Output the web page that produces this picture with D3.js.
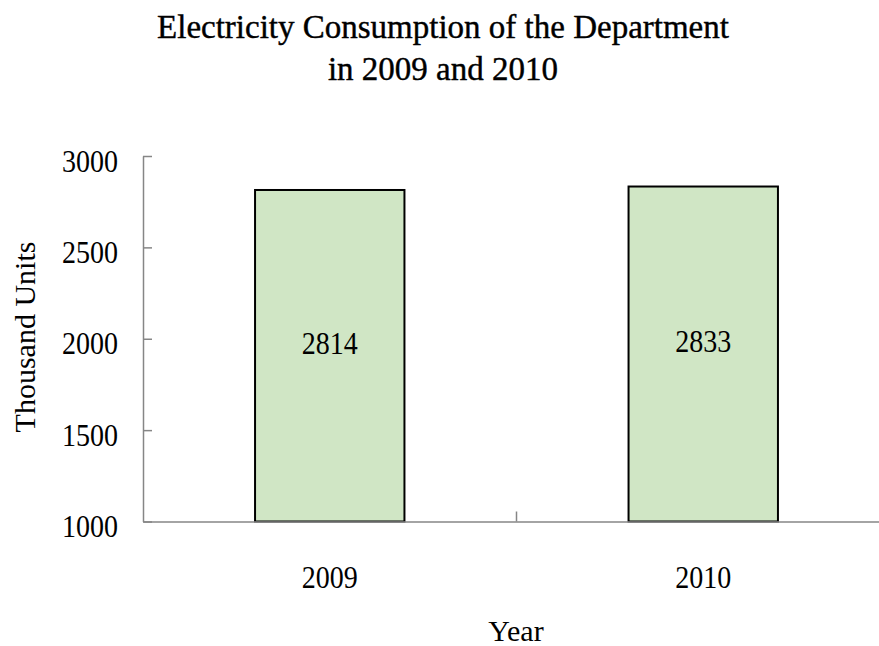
<!DOCTYPE html>
<html>
<head>
<meta charset="utf-8">
<script src="https://cdn.jsdelivr.net/npm/d3@7"></script>
<style>
  body { margin: 0; background: #fff; }
  text { font-family: "Liberation Serif", "Times New Roman", serif; fill: #000; }
</style>
</head>
<body>
<div id="chart"></div>
<script>
var years = ["2009", "2010"];
var consumption = [2814, 2833];
var yTicks = [1000, 1500, 2000, 2500, 3000];
var titleLines = ["Electricity Consumption of the Department", "in 2009 and 2010"];

var width = 879, height = 646;
var plotLeft = 143, plotRight = 890, plotTop = 156, plotBottom = 521.5;

var svg = d3.select("#chart").append("svg")
  .attr("width", width)
  .attr("height", height);

var x = d3.scaleBand()
  .domain(years)
  .range([plotLeft, plotRight])
  .paddingInner(0.6)
  .paddingOuter(0.3);

var y = d3.scaleLinear()
  .domain([1000, 3000])
  .range([plotBottom, plotTop]);

// narrow the numbers a bit, the original font is a condensed one
function squeeze(sel) {
  sel.each(function() {
    var t = d3.select(this);
    var tx = +t.attr("x") || 0;
    t.attr("x", 0)
      .attr("font-size", 32)
      .attr("transform", "translate(" + tx + ",0) scale(0.875,1)");
  });
}

// title
svg.selectAll("text.title")
  .data(titleLines)
  .enter().append("text")
  .attr("class", "title")
  .attr("x", 443)
  .attr("y", function(d, i) { return 38 + i * 42; })
  .attr("text-anchor", "middle")
  .attr("font-size", 33)
  .attr("stroke", "#000")
  .attr("stroke-width", 0.4)
  .text(function(d) { return d; });

// bars
svg.selectAll("rect.bar")
  .data(consumption)
  .enter().append("rect")
  .attr("class", "bar")
  .attr("x", function(d, i) { return x(years[i]); })
  .attr("y", function(d) { return y(d); })
  .attr("width", x.bandwidth())
  .attr("height", function(d) { return y(1000) - y(d); })
  .attr("fill", "#d0e6c5")
  .attr("stroke", "#000")
  .attr("stroke-width", 2);

svg.selectAll("text.value")
  .data(consumption)
  .enter().append("text")
  .attr("class", "value")
  .attr("x", function(d, i) { return x(years[i]) + x.bandwidth() / 2; })
  .attr("y", function(d) { return (y(d) + y(1000)) / 2 - 2; })
  .attr("text-anchor", "middle")
  .text(function(d) { return d; })
  .call(squeeze);

// y axis
var yAxis = svg.append("g")
  .attr("transform", "translate(" + plotLeft + ",0)")
  .call(d3.axisLeft(y).tickValues(yTicks).tickFormat(d3.format("d"))
    .tickSizeInner(-9).tickSizeOuter(0).tickPadding(25));
yAxis.select(".domain").attr("stroke", "#868686").attr("stroke-width", 1.5);
yAxis.selectAll(".tick line").attr("stroke", "#868686").attr("stroke-width", 1.5);
yAxis.selectAll(".tick text")
  .attr("font-family", "Liberation Serif")
  .attr("dy", "0.47em")
  .attr("fill", "#000")
  .call(squeeze);

// x axis
var xAxis = svg.append("g")
  .attr("transform", "translate(0," + plotBottom + ")")
  .call(d3.axisBottom(x).tickSize(0).tickPadding(44));
xAxis.select(".domain").attr("stroke", "#868686").attr("stroke-width", 1.5);
xAxis.selectAll(".tick text")
  .attr("font-family", "Liberation Serif")
  .attr("fill", "#000")
  .call(squeeze);

// tick marks between categories
xAxis.selectAll("line.sep")
  .data(d3.range(1, years.length))
  .enter().append("line")
  .attr("class", "sep")
  .attr("x1", function(i) { return plotLeft + i * x.step(); })
  .attr("x2", function(i) { return plotLeft + i * x.step(); })
  .attr("y1", 0)
  .attr("y2", -10)
  .attr("stroke", "#868686")
  .attr("stroke-width", 1.5);

// axis titles
svg.append("text")
  .attr("x", 516)
  .attr("y", 641)
  .attr("text-anchor", "middle")
  .attr("font-size", 30)
  .text("Year");

svg.append("text")
  .attr("transform", "translate(35,337) rotate(-90)")
  .attr("text-anchor", "middle")
  .attr("font-size", 30)
  .text("Thousand Units");
</script>
</body>
</html>
